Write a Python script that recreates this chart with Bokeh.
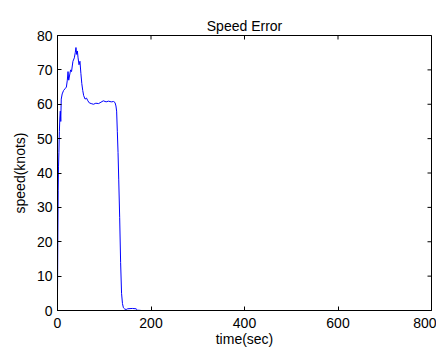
from bokeh.plotting import figure
from bokeh.models import Range1d, FixedTicker
from bokeh.embed import file_html
from bokeh.resources import INLINE

time_sec = [0, 0.7, 1.5, 2.2, 3, 4, 5, 6, 7, 8, 10, 13, 16, 19, 21, 22.5, 24, 26, 28,
            30, 33, 36, 38, 39.5, 41, 42.5, 44, 46, 48, 50, 52, 54, 56, 59, 62, 65,
            68, 72, 77, 82, 88, 93, 98, 104, 109, 115, 120, 123, 125, 126.5, 128,
            129.5, 131, 133, 135, 137, 139, 141, 144, 147, 150, 160, 168, 171, 180,
            200, 300, 400, 500, 600, 700, 800]
speed_knots = [5, 20, 35, 42, 46, 52, 56, 58, 55, 61.5, 63, 64, 64.5, 65, 67, 69.5,
               67, 68.5, 70, 69.5, 72.5, 73.5, 75, 76.5, 74.5, 75.5, 73.5, 71.5, 72.5,
               69, 66, 64, 62.5, 61.5, 61.8, 61, 60.4, 60.2, 60.0, 60.3, 60.2, 60.6,
               61, 60.7, 60.9, 60.7, 60.8, 60.5, 59.5, 58, 52, 46, 38, 27, 14, 5, 2,
               0.8, 0.4, 0.3, 0.5, 0.6, 0.5, 0.1, 0, 0, 0, 0, 0, 0, 0, 0]
x_ticks = [0, 200, 400, 600, 800]
y_ticks = [0, 10, 20, 30, 40, 50, 60, 70, 80]

FONT = "Liberation Sans"

p = figure(frame_width=374, frame_height=275, output_backend="svg", toolbar_location=None,
           x_range=Range1d(0, 800), y_range=Range1d(0, 80),
           title="Speed Error",
           min_border_left=57, min_border_right=5, min_border_top=35, min_border_bottom=40)
p.line(time_sec, speed_knots, line_color="#0000ff", line_width=1)

# inward tick marks on top and right frame edges
p.scatter(x_ticks, [80] * len(x_ticks), marker="dash", size=8, angle=1.5708,
          line_color="#000000", line_width=1)
p.scatter([800] * len(y_ticks), y_ticks, marker="dash", size=8,
          line_color="#000000", line_width=1)

p.grid.visible = False
p.outline_line_color = "#000000"
p.background_fill_color = "white"
p.border_fill_color = "white"

p.title.text_font = FONT
p.title.text_font_size = "14px"
p.title.text_font_style = "normal"
p.title.align = "center"
p.title.text_color = "#000000"
p.title.standoff = 4

for ax in (p.xaxis[0], p.yaxis[0]):
    ax.major_tick_in = 4
    ax.major_tick_out = 0
    ax.minor_tick_in = 0
    ax.minor_tick_out = 0
    ax.axis_line_color = "#000000"
    ax.major_tick_line_color = "#000000"
    ax.major_label_text_font = FONT
    ax.major_label_text_font_size = "14px"
    ax.major_label_text_color = "#000000"
    ax.axis_label_text_font = FONT
    ax.axis_label_text_font_size = "14px"
    ax.axis_label_text_font_style = "normal"
    ax.axis_label_text_color = "#000000"

p.xaxis[0].ticker = FixedTicker(ticks=x_ticks)
p.yaxis[0].ticker = FixedTicker(ticks=y_ticks)
p.xaxis[0].axis_label = "time(sec)"
p.yaxis[0].axis_label = "speed(knots)"
p.xaxis[0].major_label_standoff = 7
p.xaxis[0].axis_label_standoff = 0
p.yaxis[0].major_label_standoff = 5
p.yaxis[0].axis_label_standoff = 6

open("out.html", "w").write(file_html(p, INLINE))
